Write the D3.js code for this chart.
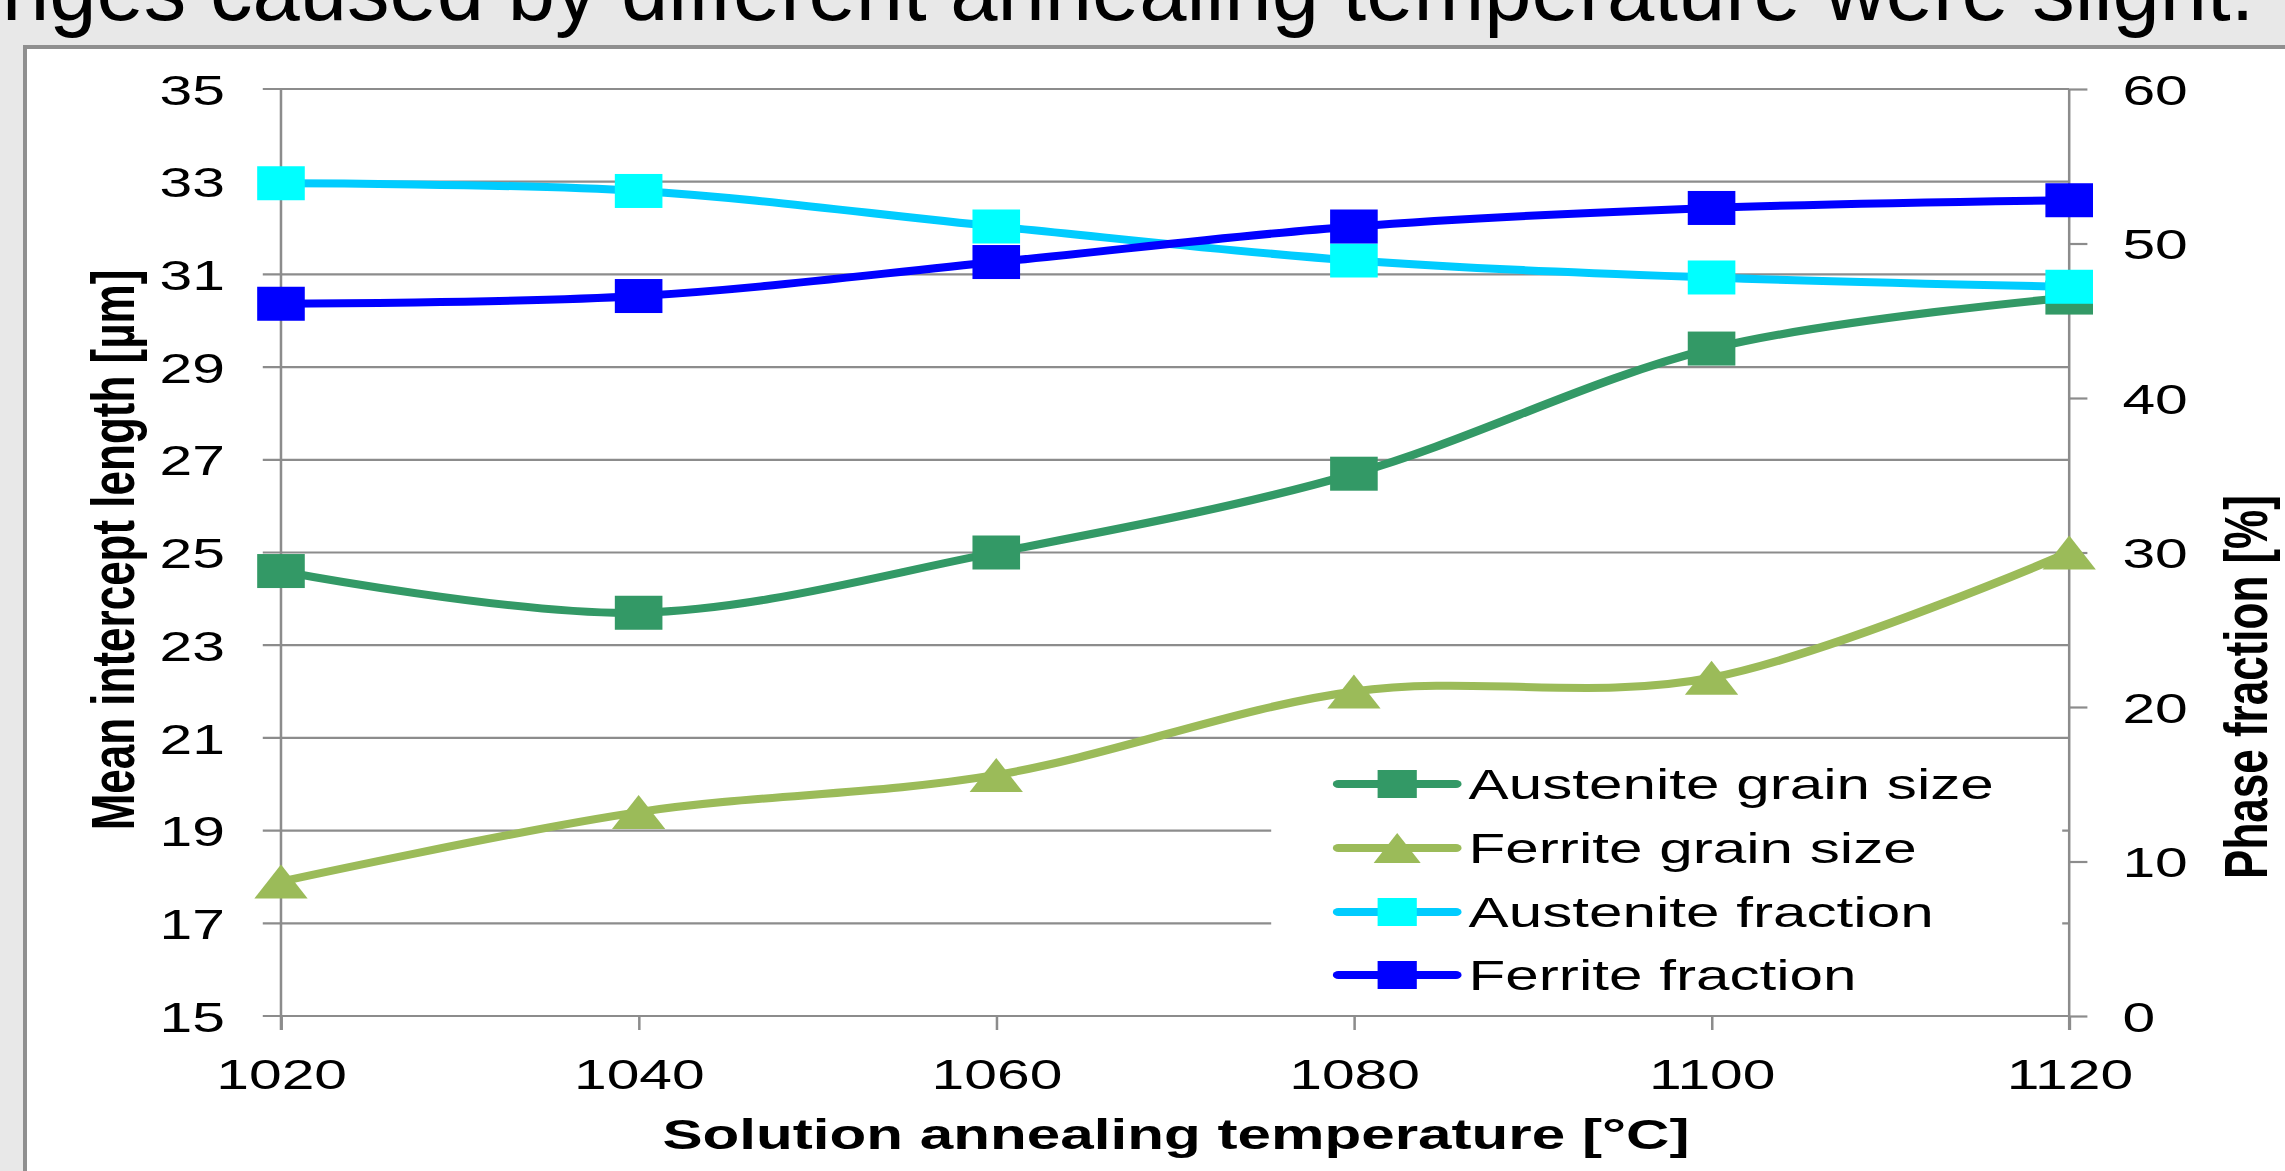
<!DOCTYPE html>
<html>
<head>
<meta charset="utf-8">
<script src="https://cdn.jsdelivr.net/npm/d3@7"></script>
<style>
  html, body { margin: 0; padding: 0; background: #e8e8e8; overflow: hidden; }
  text { font-family: "Liberation Sans", Arial, sans-serif; }
</style>
</head>
<body>
<div id="chart"></div>
<script>
// values
var temps = [1020, 1040, 1060, 1080, 1100, 1120];
var austeniteGrain = [24.6, 23.7, 25.0, 26.7, 29.4, 30.5];   // left axis, um
var ferriteGrain   = [17.9, 19.4, 20.2, 22.0, 22.3, 25.0];   // left axis, um
var austeniteFrac  = [53.9, 53.4, 51.1, 48.9, 47.8, 47.2];   // right axis, %
var ferriteFrac    = [46.1, 46.6, 48.8, 51.1, 52.3, 52.8];   // right axis, %
var leftTicks  = [15, 17, 19, 21, 23, 25, 27, 29, 31, 33, 35];
var rightTicks = [0, 10, 20, 30, 40, 50, 60];
var seriesNames = ["Austenite grain size", "Ferrite grain size", "Austenite fraction", "Ferrite fraction"];

function drawChart() {
  var W = 2285, H = 1171;
  // the chart picture in the slide is stretched sideways
  var sx = 1.4;

  var svg = d3.select("#chart").append("svg")
    .attr("width", W)
    .attr("height", H);

  svg.append("rect")
    .attr("width", W).attr("height", H)
    .attr("fill", "#e8e8e8");

  // slide text, cut at the top
  svg.append("text")
    .attr("x", 2)
    .attr("y", 20)
    .style("font-size", "85px")
    .attr("fill", "#000")
    .text("nges caused by different annealing temperature were slight.");

  // chart frame
  svg.append("rect")
    .attr("x", 25).attr("y", 47)
    .attr("width", W).attr("height", H)
    .attr("fill", "#fff")
    .attr("stroke", "#8f8f8f")
    .attr("stroke-width", 4);

  var chart = svg.append("g")
    .attr("transform", "scale(" + sx + ",1)");

  var pLeft = 200.7, pRight = 1478, pTop = 89, pBottom = 1016;

  var x = d3.scaleLinear().domain([1020, 1120]).range([pLeft, pRight]);
  var yL = d3.scaleLinear().domain([15, 35]).range([pBottom, pTop]);
  var yR = d3.scaleLinear().domain([0, 60]).range([pBottom, pTop]);

  var grid = "#8c8c8c";

  // gridlines (with the outward left tick)
  chart.selectAll(".grid")
    .data(leftTicks)
    .enter().append("line")
    .attr("class", "grid")
    .attr("x1", pLeft - 13).attr("x2", pRight)
    .attr("y1", function(d) { return yL(d); })
    .attr("y2", function(d) { return yL(d); })
    .attr("stroke", grid)
    .attr("stroke-width", 2.2);

  // left axis labels
  var leftAxis = d3.axisLeft(yL).tickValues(leftTicks).tickSize(0).tickPadding(0);
  var gl = chart.append("g")
    .attr("transform", "translate(" + (pLeft - 40) + ",0)")
    .call(leftAxis);
  gl.select(".domain").remove();
  gl.selectAll("text")
    .style("font-size", "42px")
    .attr("fill", "#000")
    .attr("dy", "0.36em");

  // right axis
  var rightAxis = d3.axisRight(yR).tickValues(rightTicks).tickSize(13).tickPadding(25);
  var gr = chart.append("g")
    .attr("transform", "translate(" + pRight + ",0)")
    .call(rightAxis);
  gr.select(".domain").remove();
  gr.selectAll(".tick line").attr("stroke", grid).attr("stroke-width", 2.2);
  gr.selectAll("text")
    .style("font-size", "42px")
    .attr("fill", "#000")
    .attr("dy", "0.36em");

  // x axis
  var xAxis = d3.axisBottom(x).tickValues(temps).tickSize(14).tickPadding(29).tickFormat(d3.format("d"));
  var gx = chart.append("g")
    .attr("transform", "translate(0," + pBottom + ")")
    .call(xAxis);
  gx.select(".domain").remove();
  gx.selectAll(".tick line").attr("stroke", grid).attr("stroke-width", 1.8);
  gx.selectAll("text")
    .style("font-size", "42px")
    .attr("fill", "#000");

  // vertical axis lines
  [pLeft, pRight].forEach(function(px) {
    chart.append("line")
      .attr("x1", px).attr("x2", px)
      .attr("y1", pTop).attr("y2", pBottom + 14)
      .attr("stroke", grid)
      .attr("stroke-width", 1.8);
  });

  // axis titles
  chart.append("text")
    .attr("text-anchor", "middle")
    .attr("x", 840).attr("y", 1149)
    .style("font-size", "43px")
    .style("font-weight", "bold")
    .text("Solution annealing temperature [\u00b0C]");

  chart.append("text")
    .attr("transform", "translate(96,550) rotate(-90)")
    .attr("text-anchor", "middle")
    .style("font-size", "44px")
    .style("font-weight", "bold")
    .text("Mean intercept length [\u00b5m]");

  chart.append("text")
    .attr("transform", "translate(1619,687) rotate(-90)")
    .attr("text-anchor", "middle")
    .style("font-size", "44px")
    .style("font-weight", "bold")
    .text("Phase fraction [%]");

  // series
  var series = [
    { name: seriesNames[0], values: austeniteGrain, y: yL, line: "#339966", fill: "#339966", shape: "square" },
    { name: seriesNames[1], values: ferriteGrain,   y: yL, line: "#9bbb59", fill: "#9bbb59", shape: "triangle" },
    { name: seriesNames[2], values: austeniteFrac,  y: yR, line: "#00ccff", fill: "#00ffff", shape: "square" },
    { name: seriesNames[3], values: ferriteFrac,    y: yR, line: "#0000ff", fill: "#0000ff", shape: "square" }
  ];

  function drawMarker(g, shape, cx, cy, size, color) {
    if (shape === "square") {
      g.append("rect")
        .attr("x", cx - size / 2).attr("y", cy - size / 2)
        .attr("width", size).attr("height", size)
        .attr("fill", color);
    } else {
      var w = size * 1.12, h = size;
      g.append("path")
        .attr("d", "M" + cx + "," + (cy - h / 2) + "L" + (cx + w / 2) + "," + (cy + h / 2) + "L" + (cx - w / 2) + "," + (cy + h / 2) + "Z")
        .attr("fill", color);
    }
  }

  series.forEach(function(s) {
    var pts = temps.map(function(t, i) { return [x(t), s.y(s.values[i])]; });
    var line = d3.line().curve(d3.curveCardinal.tension(0));
    chart.append("path")
      .attr("d", line(pts))
      .attr("fill", "none")
      .attr("stroke", s.line)
      .attr("stroke-width", 8)
      .attr("stroke-linecap", "round");
    var mg = chart.append("g");
    pts.forEach(function(p) {
      drawMarker(mg, s.shape, p[0], p[1], 34, s.fill);
    });
  });

  // legend
  var lg = chart.append("g");
  lg.append("rect")
    .attr("x", 908).attr("y", 745)
    .attr("width", 1473 - 908).attr("height", 1008 - 745)
    .attr("fill", "#fff");
  var rowY = [784, 848, 912, 975];
  series.forEach(function(s, i) {
    var yy = rowY[i];
    lg.append("line")
      .attr("x1", 956).attr("x2", 1040)
      .attr("y1", yy).attr("y2", yy)
      .attr("stroke", s.line)
      .attr("stroke-width", 8)
      .attr("stroke-linecap", "round");
    drawMarker(lg, s.shape, 998, yy, s.shape === "square" ? 28 : 30, s.fill);
    lg.append("text")
      .attr("x", 1049).attr("y", yy)
      .attr("dy", "0.36em")
      .style("font-size", "43px")
      .text(s.name);
  });
}

drawChart();
</script>
</body>
</html>
